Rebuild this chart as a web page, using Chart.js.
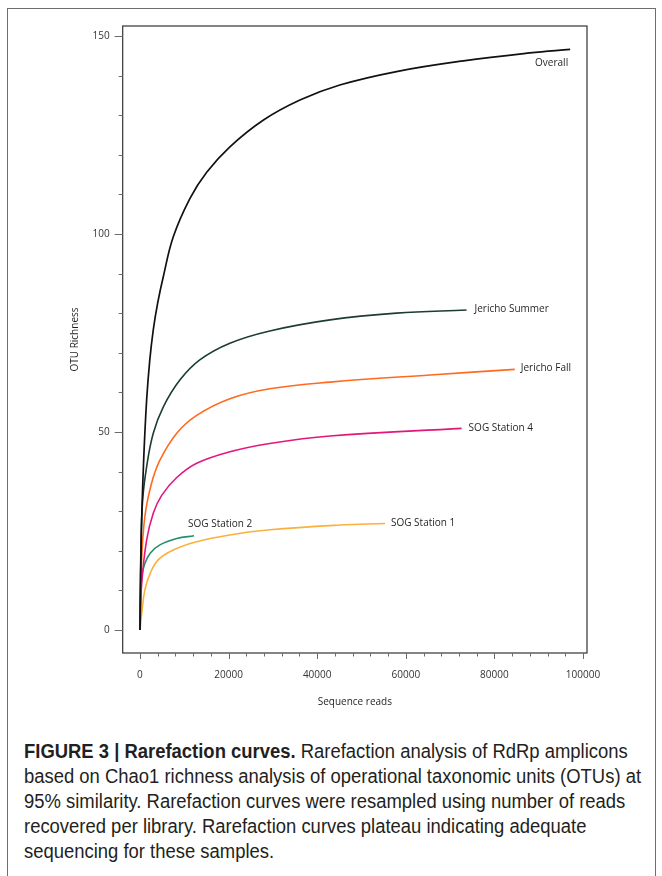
<!DOCTYPE html>
<html>
<head>
<meta charset="utf-8">
<script src="https://cdn.jsdelivr.net/npm/chart.js@4.4.1/dist/chart.umd.min.js"></script>
<style>
  body { margin: 0; background: #fff; width: 662px; height: 876px; overflow: hidden; position: relative; }
  #frame { position: absolute; left: 7px; top: 8px; width: 647px; height: 900px; border: 1.5px solid #6e6e6e; }
  #wrap { position: absolute; left: 0; top: 0; width: 662px; height: 720px; }
  #caption { position: absolute; left: 24px; top: 739px; width: 700px; white-space: nowrap; font-family: "Liberation Sans", sans-serif; font-size: 20px; line-height: 25px; color: #231f20; transform: scaleX(0.922); transform-origin: 0 0; }
  #caption b { font-weight: bold; }
</style>
</head>
<body>
<div id="frame"></div>
<div id="wrap"><canvas id="chart" width="662" height="720"></canvas></div>
<div id="caption"><b>FIGURE 3 | Rarefaction curves.</b> Rarefaction analysis of RdRp amplicons<br>based on Chao1 richness analysis of operational taxonomic units (OTUs) at<br>95% similarity. Rarefaction curves were resampled using number of reads<br>recovered per library. Rarefaction curves plateau indicating adequate<br>sequencing for these samples.</div>
<script>
// ticks
const xTicks = [0, 4000, 8000, 12000, 16000, 20000, 24000, 28000, 32000, 36000, 40000, 44000, 48000, 52000, 56000, 60000, 64000, 68000, 72000, 76000, 80000, 84000, 88000, 92000, 96000, 100000];
const xMajor = [0, 20000, 40000, 60000, 80000, 100000];
const yTicks = [0, 10, 20, 30, 40, 50, 60, 70, 80, 90, 100, 110, 120, 130, 140, 150];
const yMajor = [0, 50, 100, 150];

// curves (reads, OTUs)
const overallX = [0, 300, 800, 1500, 2200, 3000, 4000, 5260, 7520, 11290, 15060, 20300, 27800, 36100, 45100, 57900, 73000, 88000, 97100];
const overallY = [0, 24, 42, 58, 68, 75.8, 82.6, 89.2, 99.3, 109.0, 115.6, 122.0, 128.7, 133.8, 137.6, 141.0, 143.7, 145.7, 146.6];
const summerX = [0, 200, 600, 1500, 3000, 5300, 9000, 13500, 20300, 29300, 42900, 57900, 73700];
const summerY = [0, 20, 32.8, 41.2, 49.7, 56.4, 63.1, 68.2, 72.4, 75.5, 78.3, 80.0, 80.8];
const fallX = [0, 300, 1100, 2600, 4500, 8300, 12800, 20300, 29300, 42900, 65500, 84600];
const fallY = [0, 16, 28.6, 37.0, 42.9, 49.7, 54.2, 58.4, 60.9, 62.6, 64.4, 65.8];
const sog4X = [0, 400, 1500, 3000, 4900, 8300, 12800, 20300, 29300, 42900, 72600];
const sog4Y = [0, 11.8, 22.7, 29.5, 34.0, 38.5, 42.1, 45.0, 47.1, 49.0, 50.9];
const sog2X = [0, 150, 400, 1100, 2300, 4500, 8300, 12200];
const sog2Y = [0, 8, 13.5, 16.8, 19.4, 21.5, 23.1, 23.8];
const sog1X = [0, 400, 1100, 2300, 4100, 7500, 12800, 20300, 29300, 45100, 55300];
const sog1Y = [0, 4.2, 10.1, 14.3, 17.7, 20.2, 22.3, 24.0, 25.3, 26.5, 26.9];

function pts(xs, ys) {
  return xs.map((x, i) => ({ x: x, y: ys[i] }));
}

function line(label, xs, ys, color, width) {
  return {
    label: label,
    data: pts(xs, ys),
    borderColor: color,
    borderWidth: width,
    pointRadius: 0,
    fill: false,
    tension: 0.4
  };
}

// label placement next to the end of each curve: [dx, dy, align]
const labelPos = {
  'Overall': [-2, 14, 'right'],
  'Jericho Summer': [8, -1, 'left'],
  'Jericho Fall': [6, -1, 'left'],
  'SOG Station 4': [7, 0, 'left'],
  'SOG Station 1': [6, 0, 'left'],
  'SOG Station 2': [-6, -12, 'left']
};

const tickFont = { family: "'Open Sans', sans-serif", size: 10 };

const frameAndTicks = {
  id: 'frameAndTicks',
  afterDraw(chart) {
    const ctx = chart.ctx;
    const a = chart.chartArea;
    const xs = chart.scales.x, ys = chart.scales.y;
    ctx.save();
    ctx.strokeStyle = '#333';
    ctx.lineWidth = 1.2;
    ctx.strokeRect(a.left, a.top, a.right - a.left, a.bottom - a.top);
    ctx.strokeStyle = '#6a6a6a';
    ctx.lineWidth = 1;
    ctx.beginPath();
    xTicks.forEach(v => {
      const p = Math.round(xs.getPixelForValue(v)) + 0.5;
      const len = xMajor.includes(v) ? 6 : 3.5;
      ctx.moveTo(p, a.bottom);
      ctx.lineTo(p, a.bottom + len);
    });
    yTicks.forEach(v => {
      const p = Math.round(ys.getPixelForValue(v)) + 0.5;
      const len = yMajor.includes(v) ? 8 : 4;
      ctx.moveTo(a.left, p);
      ctx.lineTo(a.left - len, p);
    });
    ctx.stroke();

    // curve labels
    ctx.fillStyle = '#231f20';
    ctx.font = "10px 'Open Sans', sans-serif";
    ctx.textBaseline = 'middle';
    chart.data.datasets.forEach(ds => {
      const last = ds.data[ds.data.length - 1];
      const pos = labelPos[ds.label];
      ctx.textAlign = pos[2];
      ctx.fillText(ds.label, xs.getPixelForValue(last.x) + pos[0], ys.getPixelForValue(last.y) + pos[1]);
    });
    ctx.restore();
  }
};

new Chart(document.getElementById('chart'), {
  type: 'line',
  data: {
    datasets: [
      line('Overall', overallX, overallY, '#111111', 1.7),
      line('Jericho Summer', summerX, summerY, '#1c3c34', 1.6),
      line('Jericho Fall', fallX, fallY, '#ff6a1f', 1.6),
      line('SOG Station 4', sog4X, sog4Y, '#e3177b', 1.6),
      line('SOG Station 2', sog2X, sog2Y, '#23906c', 1.6),
      line('SOG Station 1', sog1X, sog1Y, '#fcb03c', 1.6)
    ]
  },
  options: {
    responsive: false,
    animation: false,
    devicePixelRatio: 1,
    layout: { padding: { top: 26, right: 75, left: 0, bottom: 0 } },
    plugins: { legend: { display: false }, tooltip: { enabled: false } },
    scales: {
      x: {
        type: 'linear',
        min: -3900,
        max: 100900,
        grid: { display: false, drawTicks: false },
        border: { display: false },
        afterBuildTicks: s => { s.ticks = xTicks.map(v => ({ value: v })); },
        afterFit: s => { s.height = 67; },
        ticks: {
          autoSkip: false, maxRotation: 0, padding: 16, color: '#333', font: tickFont,
          callback: v => xMajor.includes(v) ? String(v) : ''
        },
        title: { display: true, text: 'Sequence reads', color: '#231f20', font: tickFont, padding: { bottom: 12 } }
      },
      y: {
        min: -5.8,
        max: 152.5,
        grid: { display: false, drawTicks: false },
        border: { display: false },
        afterBuildTicks: s => { s.ticks = yTicks.map(v => ({ value: v })); },
        afterFit: s => { s.width = 122.7; },
        ticks: {
          autoSkip: false, padding: 13, color: '#333', font: tickFont,
          callback: v => yMajor.includes(v) ? String(v) : ''
        },
        title: { display: true, text: 'OTU Richness', color: '#231f20', font: tickFont, padding: { top: 69 } }
      }
    }
  },
  plugins: [frameAndTicks]
});
</script>
</body>
</html>
